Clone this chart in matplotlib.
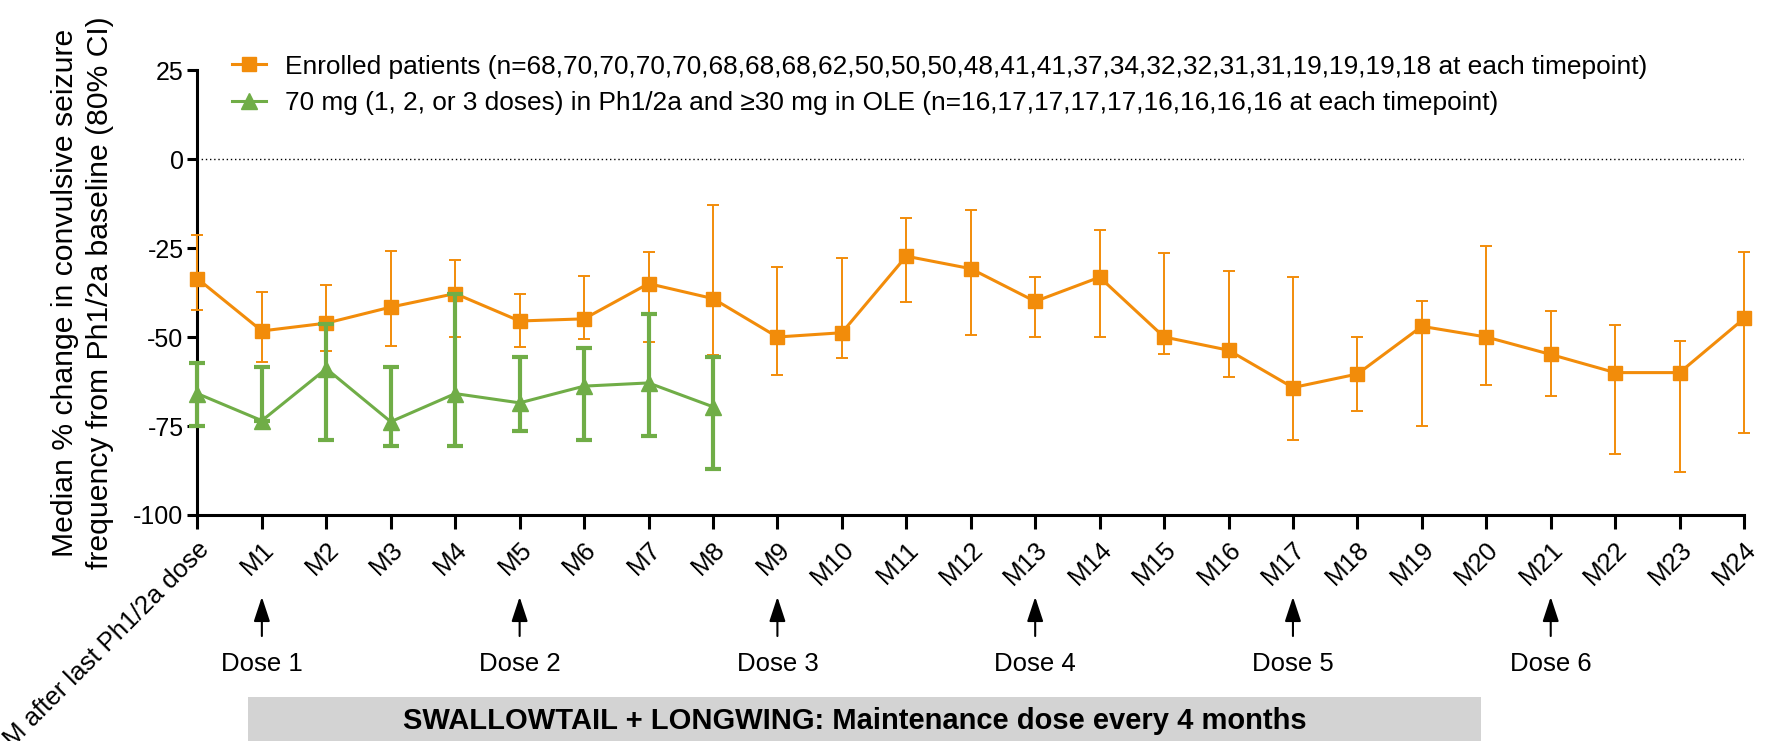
import matplotlib
matplotlib.use("Agg")
import matplotlib.pyplot as plt
from matplotlib.lines import Line2D
from matplotlib.patches import Rectangle

plt.rcParams['font.family'] = ['Liberation Sans', 'DejaVu Sans']

# Etiquetas del eje x (meses)
meses = ["M after last Ph1/2a dose"] + ["M%d" % i for i in range(1, 25)]

# Pacientes enrolados: mediana y limites del IC 80%
naranja_med = [-33.6, -48.3, -46.1, -41.6, -37.8, -45.5, -44.9, -35.0, -39.2, -50.0,
               -48.8, -27.3, -30.8, -40.0, -33.2, -50.0, -53.7, -64.2, -60.4, -47.0,
               -50.0, -54.9, -60.0, -60.0, -44.8]
naranja_sup = [-21.4, -37.4, -35.5, -25.7, -28.3, -38.0, -33.0, -26.2, -12.9, -30.3,
               -27.8, -16.6, -14.3, -33.2, -20.0, -26.5, -31.5, -33.2, -50.0, -40.0,
               -24.3, -42.8, -46.5, -51.1, -26.1]
naranja_inf = [-42.3, -57.1, -53.9, -52.5, -50.0, -52.8, -50.7, -51.5, -55.0, -60.6,
               -55.9, -40.2, -49.4, -50.0, -50.0, -54.8, -61.2, -79.0, -70.7, -74.9,
               -63.6, -66.6, -82.8, -87.9, -77.0]

# Grupo 70 mg
verde_med = [-65.9, -73.5, -58.9, -73.8, -65.9, -68.5, -63.8, -62.9, -69.6]
verde_sup = [-57.3, -58.4, -46.3, -58.4, -38.0, -55.6, -53.1, -43.6, -55.6]
verde_inf = [-75.0, -73.5, -78.8, -80.6, -80.6, -76.4, -78.8, -77.8, -87.0]

# Dosis de mantenimiento
dosis_mes = [1, 5, 9, 13, 17, 21]
dosis_txt = ["Dose 1", "Dose 2", "Dose 3", "Dose 4", "Dose 5", "Dose 6"]

etiqueta_naranja = ("Enrolled patients (n=68,70,70,70,70,68,68,68,62,50,50,50,48,41,41,37,"
                    "34,32,32,31,31,19,19,19,18 at each timepoint)")
etiqueta_verde = ("70 mg (1, 2, or 3 doses) in Ph1/2a and \u226530 mg in OLE "
                  "(n=16,17,17,17,17,16,16,16,16 at each timepoint)")

naranja = '#F28C0A'
verde = '#70AD47'
fs = 18.5

fig = plt.figure(figsize=(17.69, 7.41), dpi=100)
ax = fig.add_axes([0.1116, 0.305, 0.8743, 0.6005])

x_n = list(range(len(naranja_med)))
x_v = list(range(len(verde_med)))

err_n = [[m - lo for m, lo in zip(naranja_med, naranja_inf)],
         [hi - m for m, hi in zip(naranja_med, naranja_sup)]]
err_v = [[m - lo for m, lo in zip(verde_med, verde_inf)],
         [hi - m for m, hi in zip(verde_med, verde_sup)]]

ax.axhline(0, color='black', linestyle=(0, (1, 2)), linewidth=1.0, zorder=1)

ax.errorbar(x_n, naranja_med, yerr=err_n, color=naranja, marker='s', markersize=10.5,
            linewidth=2.2, elinewidth=1.4, capsize=4.5, capthick=1.4,
            clip_on=False, zorder=3)
ax.errorbar(x_v, verde_med, yerr=err_v, color=verde, marker='^', markersize=11,
            linewidth=2.2, elinewidth=3.0, capsize=6, capthick=3.0,
            clip_on=False, zorder=4)

ax.set_xlim(0, 24)
ax.set_ylim(-100, 25)
ax.set_yticks([-100, -75, -50, -25, 0, 25])
ax.set_yticklabels(['-100', '-75', '-50', '-25', '0', '25'])
ax.set_xticks(x_n)
ax.set_xticklabels(meses, rotation=45, ha='right', rotation_mode='anchor')

for lado in ['top', 'right']:
    ax.spines[lado].set_visible(False)
for lado in ['left', 'bottom']:
    ax.spines[lado].set_linewidth(2.2)
ax.tick_params(axis='y', length=7, width=2.2, labelsize=18, pad=3)
ax.tick_params(axis='x', length=10, width=2.2, labelsize=fs, pad=6)

ax.set_ylabel("Median % change in convulsive seizure\nfrequency from Ph1/2a baseline (80% CI)",
              fontsize=21.7, linespacing=1.35)
ax.yaxis.set_label_coords(-0.0537, 0.5)

# Leyenda solo con linea y marcador
h1 = Line2D([], [], color=naranja, marker='s', markersize=10.5, linewidth=2.2)
h2 = Line2D([], [], color=verde, marker='^', markersize=11, linewidth=2.2)
ax.legend([h1, h2], [etiqueta_naranja, etiqueta_verde], loc='upper left',
          bbox_to_anchor=(0.1253, 0.9406), bbox_transform=fig.transFigure,
          frameon=False, fontsize=18.9, handlelength=1.3, handletextpad=0.72,
          labelspacing=0.48, borderaxespad=0)

# Flechas de las dosis y sus etiquetas
trans = ax.get_xaxis_transform()
for m, t in zip(dosis_mes, dosis_txt):
    ax.annotate('', xy=(m, -0.184), xytext=(m, -0.272), xycoords=trans, textcoords=trans,
                arrowprops=dict(arrowstyle='-|>,head_length=1.0,head_width=0.33',
                                mutation_scale=15, color='black', linewidth=1.5,
                                shrinkA=0, shrinkB=0),
                annotation_clip=False)
    ax.text(m, -0.335, t, transform=trans, ha='center', va='center', fontsize=fs)

# Barra gris inferior
fig.patches.append(Rectangle((0.1402, 0.0), 0.697, 0.0598, transform=fig.transFigure,
                             facecolor='#D3D3D3', edgecolor='none', zorder=0))
fig.text(0.483, 0.027, "SWALLOWTAIL + LONGWING: Maintenance dose every 4 months",
         ha='center', va='center', fontsize=21, fontweight='bold')

fig.savefig('out.png', dpi=100)
